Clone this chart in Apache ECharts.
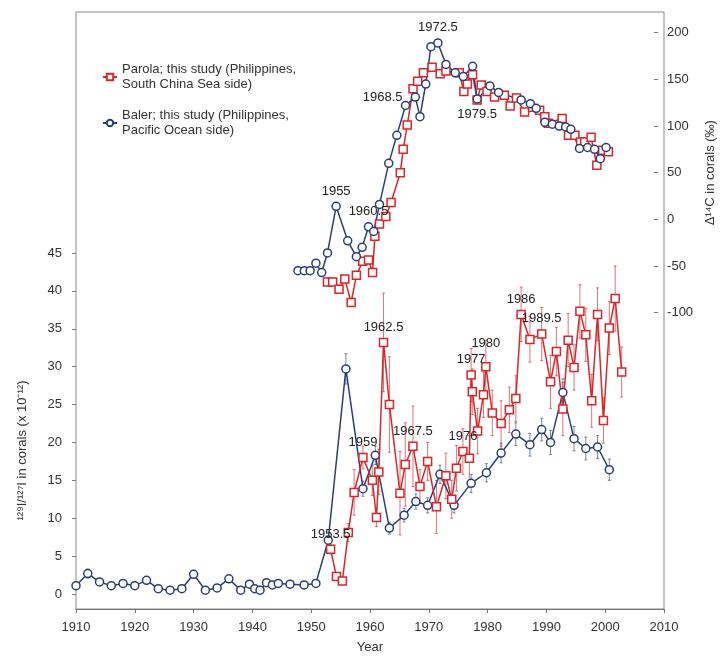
<!DOCTYPE html>
<html><head><meta charset="utf-8">
<script src="https://cdn.jsdelivr.net/npm/echarts@6/dist/echarts.min.js"></script>
<style>html,body{margin:0;padding:0;background:#fff}#c{width:725px;height:659px}</style>
</head><body><div id="c"></div>
<script>
// ---------- data ----------
const xTicks = [1910, 2010, 10];
const iodineTicks = [0, 45, 5];
const c14Ticks = [-100, 200, 50];

const balerIYear = [1910,1912,1914,1916,1918,1920,1922,1924,1926,1928,1930,1932,1934,1936,1938,1939.5,1940.4,1941.3,1942.4,1943.4,1944.4,1946.4,1948.8,1950.8,1952.9,1955.9,1958.8,1960.9,1963.3,1965.8,1967.8,1969.8,1971.9,1974.3,1977.2,1979.8,1982.3,1984.8,1987.2,1989.2,1990.7,1992.8,1994.7,1996.7,1998.7,2000.7];
const balerI     = [1.1,2.7,1.6,1.1,1.4,1.1,1.8,0.7,0.5,0.7,2.6,0.5,0.8,2.0,0.5,1.3,0.7,0.5,1.5,1.2,1.4,1.3,1.2,1.4,7.1,29.7,13.9,18.3,8.7,10.4,12.2,11.7,15.8,11.7,14.6,16.0,18.6,21.1,19.7,21.7,20.0,26.6,20.5,19.2,19.4,16.4];
const balerIErr  = [0.3,0.6,0.3,0.3,0.3,0.3,0.3,0.3,0.3,0.3,0.4,0.3,0.3,0.3,0.3,0.3,0.3,0.3,0.3,0.3,0.3,0.3,0.3,0.3,0.6,2.0,1.0,1.2,0.8,0.9,1.0,1.0,1.2,1.0,1.2,1.2,1.3,1.5,1.5,1.5,1.6,1.8,1.6,1.5,1.5,1.4];

const parolaIYear = [1953.3,1954.3,1955.3,1956.3,1957.3,1958.8,1960.4,1961.1,1961.5,1962.3,1963.3,1965.1,1966.0,1967.3,1968.5,1969.8,1971.3,1972.9,1973.9,1974.7,1975.8,1976.9,1977.2,1977.4,1978.3,1979.3,1979.7,1980.8,1982.3,1983.7,1984.8,1985.7,1987.2,1989.2,1990.7,1991.7,1992.8,1993.7,1994.7,1995.7,1996.7,1997.7,1998.7,1999.7,2000.7,2001.7,2002.8];
const parolaI     = [5.9,2.3,1.7,8.1,13.4,18.0,15.0,10.1,16.1,33.2,25.0,13.3,17.1,19.5,14.2,17.5,11.5,15.6,12.5,16.6,18.8,17.9,28.9,26.7,21.5,26.3,30.0,23.9,22.5,24.3,25.8,36.9,33.6,34.3,28.0,32.0,24.4,33.5,29.9,37.3,34.2,25.5,36.9,22.9,35.1,39.0,29.3];
const parolaIErr  = [0.6,0.4,0.4,1.2,3.0,1.5,2.0,1.2,3.0,6.5,6.3,5.5,5.5,5.3,2.2,2.5,3.5,3.0,2.5,3.0,3.0,3.0,3.5,3.0,3.0,3.0,3.5,3.0,3.0,3.0,3.0,3.6,3.0,3.5,3.5,3.2,3.5,3.5,3.0,3.5,3.5,3.5,3.5,3.0,3.5,4.3,3.3];

const balerCYear = [1948.4,1949.5,1950.5,1951.5,1952.5,1953.5,1955.0,1957.0,1958.5,1959.5,1960.6,1961.5,1962.5,1964.1,1965.5,1967.0,1968.7,1969.5,1970.5,1971.4,1972.6,1974.0,1975.6,1977.0,1978.6,1979.4,1981.6,1983.1,1987.0,1988.6,1989.6,1991.1,1992.4,1993.6,1994.7,1995.6,1997.1,1998.5,1999.7,2000.7,2001.7];
const balerC     = [-55,-55,-55,-47,-57,-36,14,-23,-40,-30,-8,-13,16,60,90,122,131,110,145,185,189,166,157,153,164,129,143,136,128,124,119,104,102,100,99,96.5,76,77,75,65,77];

const parolaCYear = [1953.5,1954.4,1955.5,1956.5,1957.6,1958.5,1959.6,1960.6,1961.3,1961.7,1962.5,1963.6,1964.5,1966.1,1966.6,1967.3,1968.3,1969.1,1970.1,1971.6,1973.0,1974.0,1976.3,1977.1,1977.7,1978.6,1979.4,1980.1,1981.1,1982.4,1984.1,1985.1,1986.2,1987.6,1990.2,1991.1,1991.7,1994.1,1995.2,1996.3,1997.3,1998.0,1999.1,2000.1,2001.1,2002.1];
const parolaC     = [-67,-67,-75,-64,-89,-60,-45,-43.5,-57,-18,-5,3,18,50,75,101,140,148,157,163,156,159,157,137,145,155,128,144,137,131,133,121.5,130,115,117,110,103,108,90,90,83,83,88,58,74,72.5];

const seriesNames = ['Parola; this study (Philippines,\nSouth China Sea side)', 'Baler; this study (Philippines,\nPacific Ocean side)'];
// annotations: [text, dataset, index, placement, gap]
const annotations = [
  ['1953.5','parolaI',0,'top',4], ['1959','parolaI',5,'top',4], ['1962.5','parolaI',9,'top',4],
  ['1967.5','parolaI',13,'top',4], ['1976','parolaI',20,'top',4], ['1977','parolaI',22,'top',4],
  ['1980','parolaI',26,'top',12], ['1986','parolaI',31,'top',4], ['1989.5','parolaI',33,'top',4],
  ['1955','balerC',6,'top',4], ['1960.5','balerC',10,'top',4], ['1968.5','balerC',16,'left',8],
  ['1972.5','balerC',20,'top',4], ['1979.5','balerC',25,'bottom',4]
];

// ---------- chart ----------
const RED = '#d8262a', BLUE = '#2b3e78';
const FONT = 'Liberation Sans, Arial, sans-serif';
const L = 76, R = 61;

function pts(xs, ys, key) {
  return xs.map((x, i) => {
    const item = { value: [x, ys[i]] };
    const a = annotations.find(a => a[1] === key && a[2] === i);
    if (a) item.label = { show: true, formatter: a[0], position: a[3], distance: a[4] };
    return item;
  });
}
function errData(xs, ys, es) { return xs.map((x, i) => [x, ys[i] - es[i], ys[i] + es[i]]); }
function errSeries(data, color, name) {
  return {
    type: 'custom', name: name, xAxisIndex: 1, yAxisIndex: 1, z: 1, silent: true,
    data: data,
    renderItem: function (params, api) {
      const lo = api.coord([api.value(0), api.value(1)]);
      const hi = api.coord([api.value(0), api.value(2)]);
      const st = { stroke: color, lineWidth: 1 };
      return { type: 'group', children: [
        { type: 'line', shape: { x1: lo[0], y1: lo[1], x2: hi[0], y2: hi[1] }, style: st },
        { type: 'line', shape: { x1: lo[0] - 1.5, y1: lo[1], x2: lo[0] + 1.5, y2: lo[1] }, style: st },
        { type: 'line', shape: { x1: hi[0] - 1.5, y1: hi[1], x2: hi[0] + 1.5, y2: hi[1] }, style: st }
      ]};
    }
  };
}
const labelStyle = { show: false, color: '#222', fontSize: 13, fontFamily: FONT };
function lineSeries(name, data, color, symbol, xi, yi) {
  return {
    type: 'line', name: name, xAxisIndex: xi, yAxisIndex: yi, data: data, z: 3,
    symbol: symbol, symbolSize: 8, showAllSymbol: true,
    lineStyle: { color: color, width: 1.5 },
    itemStyle: { color: '#fff', borderColor: color, borderWidth: 1.5 },
    label: labelStyle, emphasis: { disabled: true }, animation: false
  };
}

const axisLabelStyle = { color: '#333', fontSize: 13, fontFamily: FONT };
const option = {
  animation: false,
  backgroundColor: '#fff',
  textStyle: { fontFamily: FONT },
  legend: {
    data: seriesNames, orient: 'vertical', left: 97, top: 49.5, itemGap: 1,
    itemWidth: 14, itemHeight: 8,
    textStyle: { color: '#333', fontSize: 13, lineHeight: 15, padding: [15, 0, 0, 0], fontFamily: FONT },
    selectedMode: false
  },
  grid: [
    { left: L, right: R, top: 12, bottom: 46, show: true, borderColor: '#888', borderWidth: 1 },
    { left: L, right: R, top: 253, bottom: 65 },
    { left: L, right: R, top: 32.7, bottom: 346.3 }
  ],
  xAxis: [
    { gridIndex: 0, type: 'value', min: xTicks[0], max: xTicks[1], interval: xTicks[2],
      axisLine: { lineStyle: { color: '#777' } }, axisTick: { length: 4, lineStyle: { color: '#777' } },
      splitLine: { show: false },
      axisLabel: Object.assign({ margin: 12, formatter: v => String(v) }, axisLabelStyle),
      name: 'Year', nameLocation: 'middle', nameGap: 32, nameTextStyle: axisLabelStyle },
    { gridIndex: 1, type: 'value', min: xTicks[0], max: xTicks[1], show: false },
    { gridIndex: 2, type: 'value', min: xTicks[0], max: xTicks[1], show: false }
  ],
  yAxis: [
    { gridIndex: 0, type: 'value', min: 0, max: 1, show: false },
    { gridIndex: 1, type: 'value', min: iodineTicks[0], max: iodineTicks[1], interval: iodineTicks[2],
      axisLine: { show: false }, axisTick: { show: true, length: 4, lineStyle: { color: '#777' } },
      splitLine: { show: false }, axisLabel: Object.assign({ margin: 14 }, axisLabelStyle),
      name: '¹²⁹I/¹²⁷I in corals (x 10⁻¹²)', nameLocation: 'middle', nameGap: 47,
      nameTextStyle: Object.assign({ padding: [0, 54, 0, 0] }, axisLabelStyle) },
    { gridIndex: 2, type: 'value', position: 'right', min: c14Ticks[0], max: c14Ticks[1], interval: c14Ticks[2],
      axisLine: { show: false }, axisTick: { show: true, length: 4, lineStyle: { color: '#777' } },
      splitLine: { show: false }, axisLabel: Object.assign({ margin: 13 }, axisLabelStyle),
      name: 'Δ¹⁴C in corals (‰)', nameLocation: 'middle', nameGap: 45,
      nameTextStyle: axisLabelStyle }
  ],
  series: [
    errSeries(errData(parolaIYear, parolaI, parolaIErr), 'rgba(214,70,70,0.75)', 'Parola error'),
    errSeries(errData(balerIYear, balerI, balerIErr), 'rgba(70,85,130,0.7)', 'Baler error'),
    lineSeries(seriesNames[1], pts(balerIYear, balerI, 'balerI'), BLUE, 'circle', 1, 1),
    lineSeries(seriesNames[0], pts(parolaIYear, parolaI, 'parolaI'), RED, 'rect', 1, 1),
    lineSeries(seriesNames[0], pts(parolaCYear, parolaC, 'parolaC'), RED, 'rect', 2, 2),
    lineSeries(seriesNames[1], pts(balerCYear, balerC, 'balerC'), BLUE, 'circle', 2, 2)
  ]
};
const chart = echarts.init(document.getElementById('c'), null, { renderer: 'canvas' });
chart.setOption(option);
</script></body></html>
